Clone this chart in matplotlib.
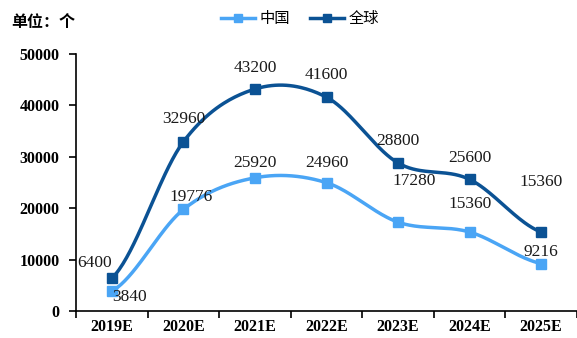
import numpy as np
import matplotlib
matplotlib.use("Agg")
import matplotlib.pyplot as plt
from matplotlib.lines import Line2D

categories = ["2019E", "2020E", "2021E", "2022E", "2023E", "2024E", "2025E"]
china = [3840, 19776, 25920, 24960, 17280, 15360, 9216]
world = [6400, 32960, 43200, 41600, 28800, 25600, 15360]
yticks = [0, 10000, 20000, 30000, 40000, 50000]

c_china = "#4AA5F5"
c_world = "#0B5294"

# label offsets in pixels (dx, dy)
off_world = [(-17, 15), (0, 23), (0, 21), (0, 22), (0, 22), (0, 21), (0, 50)]
off_china = [(18, -6), (8, 12), (0, 15), (0, 20), (16, 41), (0, 28), (0, 12)]


def smooth(xs, ys, n=40):
    xs = np.asarray(xs, float)
    ys = np.asarray(ys, float)
    px = np.concatenate([[2 * xs[0] - xs[1]], xs, [2 * xs[-1] - xs[-2]]])
    py = np.concatenate([[ys[0]], ys, [ys[-1]]])
    ox, oy = [], []
    for i in range(1, len(px) - 2):
        p0, p1, p2, p3 = (np.array([px[j], py[j]]) for j in range(i - 1, i + 3))
        c1 = p1 + (p2 - p0) / 6
        c2 = p2 - (p3 - p1) / 6
        t = np.linspace(0, 1, n)[:, None]
        b = (1 - t) ** 3 * p1 + 3 * (1 - t) ** 2 * t * c1 + 3 * (1 - t) * t ** 2 * c2 + t ** 3 * p2
        ox.extend(b[:, 0]); oy.extend(b[:, 1])
    return ox, oy


fig = plt.figure(figsize=(5.77, 3.38), dpi=100)
ax = fig.add_axes([0.132, 0.080, 0.868, 0.760])
x = np.arange(len(categories))

for vals, col, offs in [(world, c_world, off_world), (china, c_china, off_china)]:
    sx, sy = smooth(x, vals)
    ax.plot(sx, sy, color=col, lw=2.5, solid_capstyle="round")
    ax.plot(x, vals, ls="none", marker="s", ms=6.5, color=col)
    for xi, v, (dx, dy) in zip(x, vals, offs):
        ax.annotate(str(v), (xi, v), xytext=(dx, dy), textcoords="offset pixels",
                    ha="center", va="center", fontsize=12.5, family="Liberation Serif",
                    color="#1a1a1a")

ax.set_xlim(-0.5, len(categories) - 0.5)
ax.set_ylim(0, 50000)
ax.set_yticks(yticks)
ax.set_yticklabels([str(v) for v in yticks], fontsize=11.5, fontweight="bold",
                   family="Liberation Serif")
ax.set_xticks(x)
ax.set_xticklabels(categories, fontsize=11.5, fontweight="bold", family="Liberation Serif")
ax.set_xticks(np.arange(-0.5, len(categories)), minor=True)
ax.tick_params(axis="x", which="major", length=0, pad=6)
ax.tick_params(axis="x", which="minor", length=5, width=1.2, direction="out")
ax.tick_params(axis="y", length=5, width=1.2, direction="out", pad=7)
for s in ["top", "right"]:
    ax.spines[s].set_visible(False)
for s in ["left", "bottom"]:
    ax.spines[s].set_linewidth(1.2)

fig.text(0.02, 0.935, "单位：个", fontsize=11.5, fontweight="bold",
         family=["Noto Sans CJK SC", "DejaVu Sans"], va="center")

handles = [Line2D([], [], color=c_china, lw=2.5, marker="s", ms=6),
           Line2D([], [], color=c_world, lw=2.5, marker="s", ms=6)]
fig.legend(handles, ["中国", "全球"], loc="center", bbox_to_anchor=(0.52, 0.945),
           ncol=2, frameon=False, prop={"family": ["Noto Sans CJK SC", "DejaVu Sans"], "size": 11},
           handlelength=2.2, handletextpad=0.3, columnspacing=1.3)

fig.savefig("out.png", dpi=100)
